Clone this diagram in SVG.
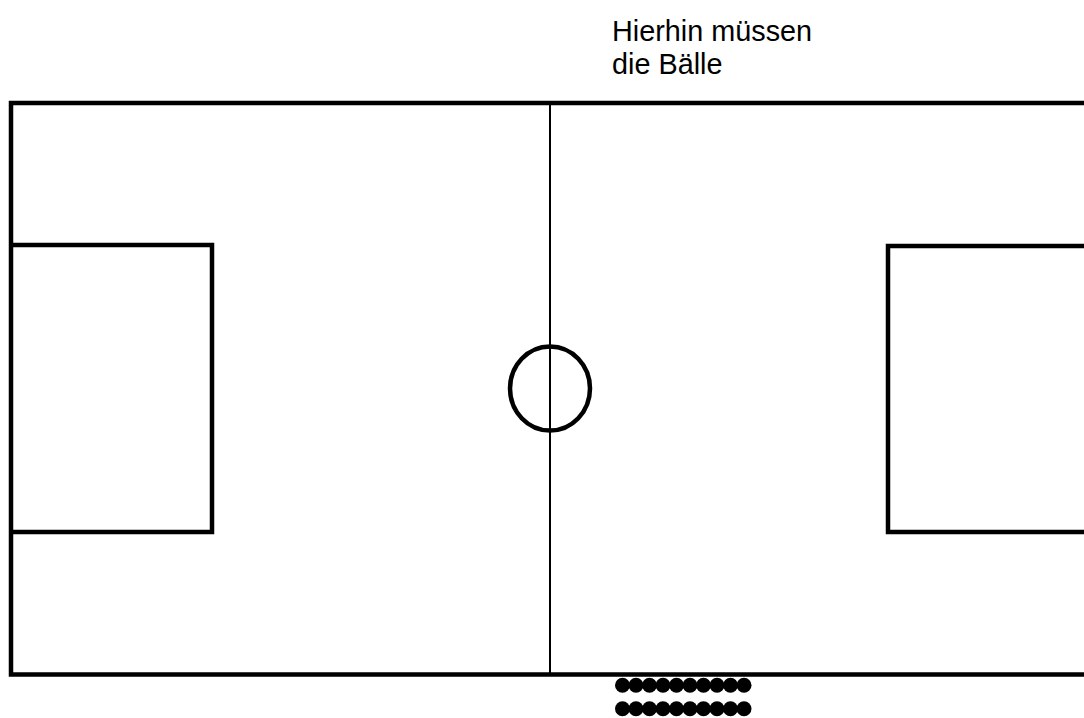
<svg xmlns="http://www.w3.org/2000/svg" width="1084" height="718" viewBox="0 0 1084 718">
<style>
.thick{fill:none;stroke:#000;stroke-width:4.5;stroke-linejoin:miter}
.thin{fill:none;stroke:#000;stroke-width:2}
.ball{fill:#000}
.lbl{font-family:"Liberation Sans",Arial,sans-serif;font-size:28.8px;fill:#000}
</style>
<rect width="1084" height="718" fill="#fff"/>
<g id="field">
<rect class="thick" x="11" y="103" width="1090" height="571.5"/>
</g>
<g id="penalty-left">
<polyline class="thick" points="11,245 212,245 212,532 11,532"/>
</g>
<g id="penalty-right">
<polyline class="thick" points="1090,246 888,246 888,532 1090,532"/>
</g>
<g id="connectors">
<line class="thin" x1="550" y1="103" x2="550" y2="674"/>
</g>
<g id="center-circle">
<ellipse class="thick" cx="550" cy="388.5" rx="40" ry="42"/>
</g>
<g id="label">
<text class="lbl" x="612" y="41">Hierhin müssen</text>
<text class="lbl" x="612" y="74">die Bälle</text>
</g>
<g id="balls">
<circle class="ball" cx="622.5" cy="685.3" r="7.5"/>
<circle class="ball" cx="636" cy="685.3" r="7.5"/>
<circle class="ball" cx="649.5" cy="685.3" r="7.5"/>
<circle class="ball" cx="663" cy="685.3" r="7.5"/>
<circle class="ball" cx="676.5" cy="685.3" r="7.5"/>
<circle class="ball" cx="690" cy="685.3" r="7.5"/>
<circle class="ball" cx="703.5" cy="685.3" r="7.5"/>
<circle class="ball" cx="717" cy="685.3" r="7.5"/>
<circle class="ball" cx="730.5" cy="685.3" r="7.5"/>
<circle class="ball" cx="744" cy="685.3" r="7.5"/>
<circle class="ball" cx="622.5" cy="708.7" r="7.5"/>
<circle class="ball" cx="636" cy="708.7" r="7.5"/>
<circle class="ball" cx="649.5" cy="708.7" r="7.5"/>
<circle class="ball" cx="663" cy="708.7" r="7.5"/>
<circle class="ball" cx="676.5" cy="708.7" r="7.5"/>
<circle class="ball" cx="690" cy="708.7" r="7.5"/>
<circle class="ball" cx="703.5" cy="708.7" r="7.5"/>
<circle class="ball" cx="717" cy="708.7" r="7.5"/>
<circle class="ball" cx="730.5" cy="708.7" r="7.5"/>
<circle class="ball" cx="744" cy="708.7" r="7.5"/>
</g>
</svg>
